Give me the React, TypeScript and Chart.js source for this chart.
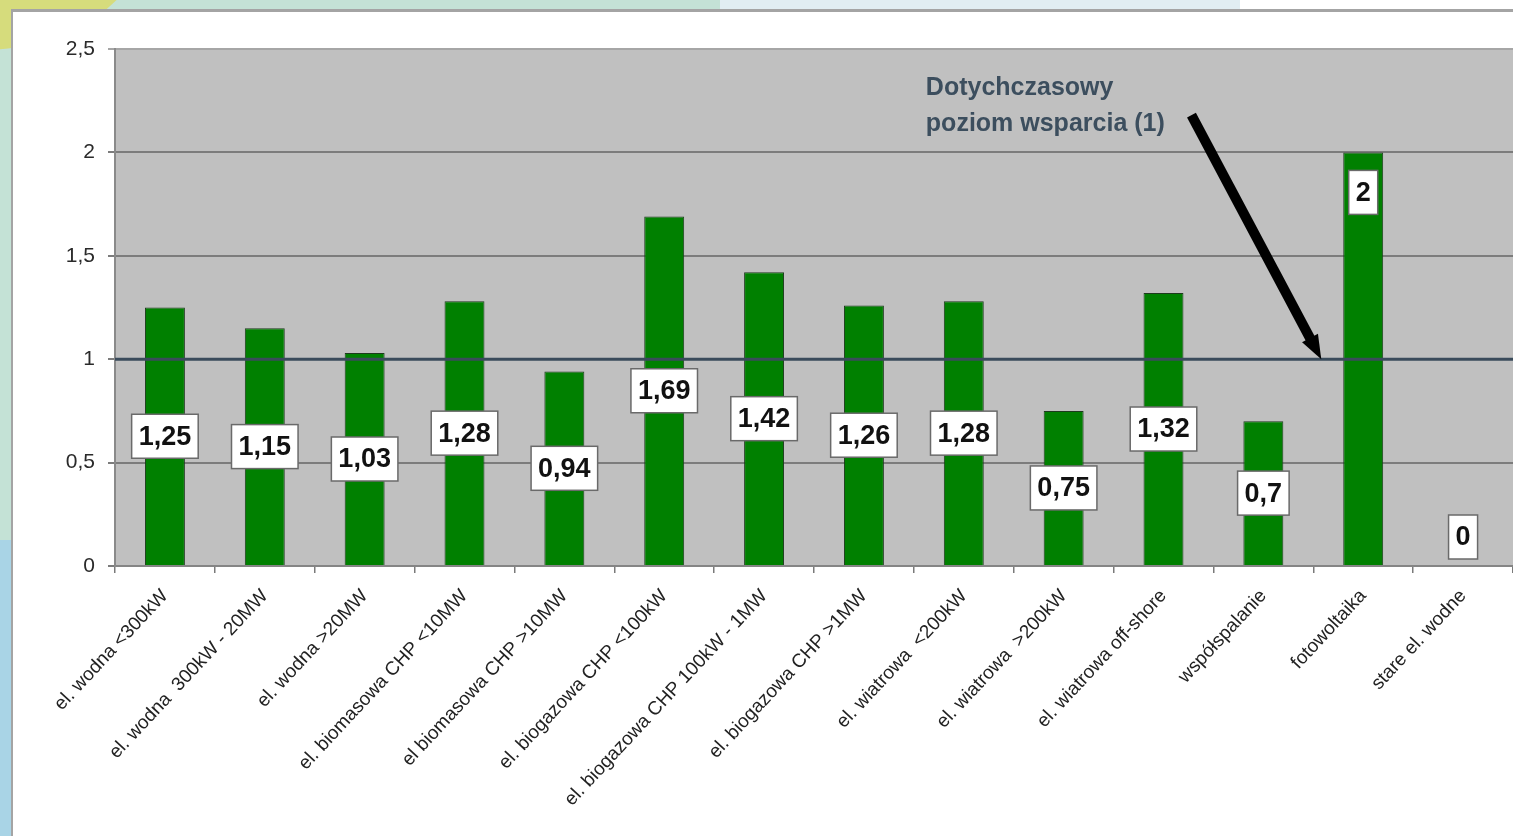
import { useEffect, useRef } from "react"
import { Chart, registerables } from "chart.js"

Chart.register(...registerables)

const categories = [
  "el. wodna <300kW",
  "el. wodna  300kW - 20MW",
  "el. wodna >20MW",
  "el. biomasowa CHP <10MW",
  "el biomasowa CHP >10MW",
  "el. biogazowa CHP <100kW",
  "el. biogazowa CHP 100kW - 1MW",
  "el. biogazowa CHP >1MW",
  "el. wiatrowa  <200kW",
  "el. wiatrowa  >200kW",
  "el. wiatrowa off-shore",
  "współspalanie",
  "fotowoltaika",
  "stare el. wodne",
]
const supportValues = [1.25, 1.15, 1.03, 1.28, 0.94, 1.69, 1.42, 1.26, 1.28, 0.75, 1.32, 0.7, 2, 0]
const yTicks = [0, 0.5, 1, 1.5, 2, 2.5]
const currentLevel = 1
const noteLines = ["Dotychczasowy", "poziom wsparcia (1)"]
// annotation anchors in data units (category index, value)
const noteAt = { index: 7.62, value: 2.31 }
const arrowFrom = { index: 10.28, value: 2.18 }
const arrowTo = { index: 11.58, value: currentLevel }

const FONT = "'Liberation Sans', Arial, sans-serif"
const fmt = (v: number) => String(v).replace(".", ",")

const decorPlugin = {
  id: "decor",
  beforeDraw(chart: any) {
    const { ctx, chartArea: a } = chart
    ctx.save()
    ctx.fillStyle = "#c0c0c0"
    ctx.fillRect(a.left, a.top, a.right - a.left, a.bottom - a.top)
    ctx.restore()
  },
  afterDatasetsDraw(chart: any) {
    const { ctx, chartArea: a, scales } = chart
    const xs = scales.x
    const ys = scales.y
    ctx.save()

    // current support level line
    const ly = ys.getPixelForValue(currentLevel)
    ctx.strokeStyle = "#3a4b5b"
    ctx.lineWidth = 3
    ctx.beginPath()
    ctx.moveTo(a.left, ly)
    ctx.lineTo(a.right, ly)
    ctx.stroke()

    // value boxes
    const meta = chart.getDatasetMeta(0)
    const max = Math.max(...supportValues)
    ctx.font = `bold 27px ${FONT}`
    ctx.textAlign = "center"
    ctx.textBaseline = "middle"
    meta.data.forEach((bar: any, i: number) => {
      const v = supportValues[i]
      const { x, y: top, base } = bar.getProps(["x", "y", "base"], true)
      let cy = (top + base) / 2
      if (v === max) cy = top + 40
      if (v === 0) cy = base - 29
      const text = fmt(v)
      const w = ctx.measureText(text).width + 14
      const h = 44
      ctx.fillStyle = "#ffffff"
      ctx.fillRect(x - w / 2, cy - h / 2, w, h)
      ctx.strokeStyle = "#6a6a6a"
      ctx.lineWidth = 1.5
      ctx.strokeRect(x - w / 2, cy - h / 2, w, h)
      ctx.fillStyle = "#111111"
      ctx.fillText(text, x, cy + 1)
    })

    // note
    ctx.font = `bold 25px ${FONT}`
    ctx.textAlign = "left"
    ctx.fillStyle = "#3c4e5e"
    const nx = xs.getPixelForValue(noteAt.index)
    const ny = ys.getPixelForValue(noteAt.value)
    noteLines.forEach((t, i) => ctx.fillText(t, nx, ny + i * 36))

    // arrow
    const x1 = xs.getPixelForValue(arrowFrom.index)
    const y1 = ys.getPixelForValue(arrowFrom.value)
    const x2 = xs.getPixelForValue(arrowTo.index)
    const y2 = ys.getPixelForValue(arrowTo.value)
    const ang = Math.atan2(y2 - y1, x2 - x1)
    const headLen = 24
    const headHalf = 9
    const bx = x2 - Math.cos(ang) * headLen
    const by = y2 - Math.sin(ang) * headLen
    ctx.strokeStyle = "#000"
    ctx.lineWidth = 10
    ctx.lineCap = "butt"
    ctx.beginPath()
    ctx.moveTo(x1, y1)
    ctx.lineTo(bx + Math.cos(ang) * 2, by + Math.sin(ang) * 2)
    ctx.stroke()
    ctx.fillStyle = "#000"
    ctx.beginPath()
    ctx.moveTo(x2, y2)
    ctx.lineTo(bx + Math.sin(ang) * headHalf, by - Math.cos(ang) * headHalf)
    ctx.lineTo(bx - Math.sin(ang) * headHalf, by + Math.cos(ang) * headHalf)
    ctx.closePath()
    ctx.fill()

    ctx.restore()
  },
}

function SupportChart() {
  const chartRef = useRef<HTMLCanvasElement>(null)
  const chartInstance = useRef<Chart | null>(null)

  useEffect(() => {
    if (!chartRef.current) return
    if (chartInstance.current) chartInstance.current.destroy()

    chartInstance.current = new Chart(chartRef.current, {
      type: "bar",
      data: {
        labels: categories,
        datasets: [
          {
            data: supportValues,
            backgroundColor: "#008000",
            borderColor: "#1d3b1d",
            borderWidth: 1,
            barPercentage: 0.4,
            categoryPercentage: 1,
          },
        ],
      },
      options: {
        responsive: false,
        animation: false,
        layout: { padding: { top: 49, left: 0, right: 0, bottom: 0 } },
        plugins: {
          legend: { display: false },
          tooltip: { enabled: false },
        },
        scales: {
          x: {
            afterFit: (s: any) => {
              s.height = 270
            },
            grid: {
              offset: true,
              drawOnChartArea: false,
              tickLength: 7,
              color: "#7a7a7a",
              lineWidth: 1.5,
            },
            border: { color: "#858585", width: 2 },
            ticks: {
              minRotation: 47,
              maxRotation: 47,
              autoSkip: false,
              padding: 12,
              color: "#222",
              font: { family: FONT, size: 19 },
            },
          },
          y: {
            min: 0,
            max: 2.5,
            afterFit: (s: any) => {
              s.width = 115
            },
            afterBuildTicks: (s: any) => {
              s.ticks = yTicks.map((v) => ({ value: v }))
            },
            grid: {
              color: (c: any) => (c.tick && c.tick.value === 2.5 ? "#a6a6a6" : "#7c7c7c"),
              lineWidth: 2,
              tickLength: 7,
            },
            border: { color: "#8a8a8a", width: 2 },
            ticks: {
              padding: 13,
              color: "#2a2a2a",
              font: { family: FONT, size: 21 },
              callback: (v: any) => fmt(Number(v)),
            },
          },
        },
      },
      plugins: [decorPlugin],
    })

    return () => {
      if (chartInstance.current) {
        chartInstance.current.destroy()
        chartInstance.current = null
      }
    }
  }, [])

  return <canvas ref={chartRef} width={1513} height={836} style={{ position: "absolute", left: 0, top: 0 }} />
}

export default function App() {
  return (
    <div
      style={{
        position: "fixed",
        left: 0,
        top: 0,
        width: 1513,
        height: 836,
        overflow: "hidden",
        background: "#c4e2d6",
      }}
    >
      <div style={{ position: "absolute", left: -183, top: -170, width: 326, height: 220, borderRadius: "50%", background: "#d6dc7c" }} />
      <div style={{ position: "absolute", left: 0, top: 540, width: 14, height: 300, background: "#a9d4e6" }} />
      <div style={{ position: "absolute", left: 720, top: 0, width: 540, height: 12, background: "#e1edf2" }} />
      <div style={{ position: "absolute", left: 1240, top: 0, width: 280, height: 12, background: "#ffffff" }} />
      <div
        style={{
          position: "absolute",
          left: 11,
          top: 9,
          right: -10,
          bottom: -10,
          background: "#ffffff",
          borderTop: "3px solid #a4a4a4",
          borderLeft: "2px solid #a4a4a4",
        }}
      />
      <SupportChart />
    </div>
  )
}
